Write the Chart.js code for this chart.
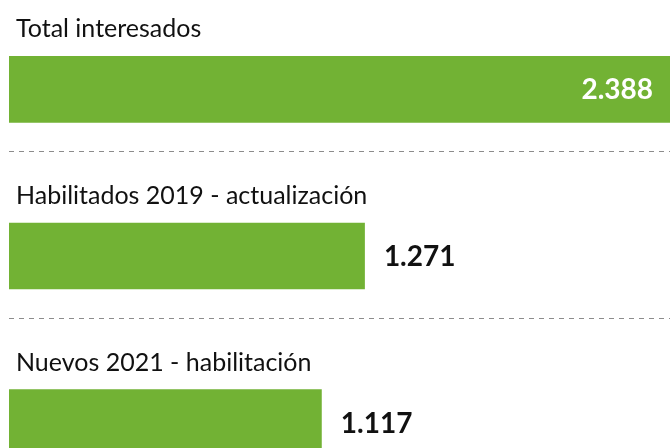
<!DOCTYPE html>
<html>
<head>
<meta charset="utf-8">
<script src="https://cdn.jsdelivr.net/npm/chart.js@4"></script>
<style>
  html, body { margin: 0; padding: 0; background: #fff; overflow: hidden; }
  #wrap { width: 670px; height: 448px; overflow: hidden; position: relative; }
  #chart { position: absolute; left: 0; top: 0; }
</style>
</head>
<body>
<div id="wrap">
  <canvas id="chart" width="681" height="506"></canvas>
</div>
<script>
const categories = ["Total interesados", "Habilitados 2019 - actualización", "Nuevos 2021 - habilitación"];
const values = [2388, 1271, 1117];
const valueLabels = ["2.388", "1.271", "1.117"];

const green = "#72b234";

// etiquetas de categoria, valores y separadores
const labelsPlugin = {
  id: "labelsPlugin",
  afterDatasetsDraw(chart) {
    const ctx = chart.ctx;
    const y = chart.scales.y;
    const x = chart.scales.x;
    const meta = chart.getDatasetMeta(0);
    ctx.save();
    categories.forEach((cat, i) => {
      const cy = y.getPixelForValue(i);
      const bar = meta.data[i];

      ctx.font = "25px Lato";
      ctx.fillStyle = "#111";
      ctx.textAlign = "left";
      ctx.textBaseline = "alphabetic";
      ctx.fillText(cat, 16, cy - 52);

      ctx.font = "bold 28px Lato";
      ctx.textBaseline = "middle";
      const w = ctx.measureText(valueLabels[i]).width;
      if (bar.x + 19 + w > 670) {
        ctx.fillStyle = "#fff";
        ctx.textAlign = "right";
        ctx.fillText(valueLabels[i], Math.min(bar.x, 670) - 17, cy + 1);
      } else {
        ctx.fillStyle = "#111";
        ctx.textAlign = "left";
        ctx.fillText(valueLabels[i], bar.x + 19, cy + 1);
      }

      if (i < categories.length - 1) {
        ctx.beginPath();
        ctx.setLineDash([5, 5]);
        ctx.strokeStyle = "#8c8c8c";
        ctx.lineWidth = 1;
        const ly = Math.round(cy + 62) + 0.5;
        ctx.moveTo(x.left, ly);
        ctx.lineTo(670, ly);
        ctx.stroke();
      }
    });
    ctx.restore();
  },
};

new Chart(document.getElementById("chart"), {
  type: "bar",
  data: {
    labels: categories,
    datasets: [
      {
        data: values,
        backgroundColor: green,
        borderWidth: 0,
        categoryPercentage: 1,
        barPercentage: 0.4,
      },
    ],
  },
  options: {
    indexAxis: "y",
    responsive: false,
    animation: false,
    layout: { padding: { left: 9, top: 6, right: 0, bottom: 0 } },
    plugins: { legend: { display: false }, tooltip: { enabled: false } },
    scales: {
      x: { display: false, min: 0, max: 2400 },
      y: { display: false },
    },
  },
  plugins: [labelsPlugin],
});
</script>
</body>
</html>
